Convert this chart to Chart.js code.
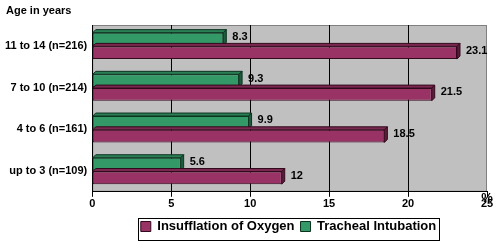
<!DOCTYPE html>
<html>
<head>
<meta charset="utf-8">
<script src="https://cdn.jsdelivr.net/npm/chart.js@4/dist/chart.umd.min.js"></script>
<style>
  html, body { margin: 0; padding: 0; background: #fff; }
  #wrap { width: 497px; height: 241px; position: relative; }
</style>
</head>
<body>
<div id="wrap"><canvas id="ageChart"></canvas></div>
<script>
// Age groups, top to bottom
const ageGroups = ['11 to 14 (n=216)', '7 to 10 (n=214)', '4 to 6 (n=161)', 'up to 3 (n=109)'];
// Percent values per group
const trachealIntubation = [8.3, 9.3, 9.9, 5.6];
const insufflationOxygen = [23.1, 21.5, 18.5, 12];
const xTicks = [0, 5, 10, 15, 20, 25];

const FONT = 'Liberation Sans, Arial, sans-serif';
const DEPTH = 3;
const LEGEND_SHIFT = 43; // legend sits right of centre in the original

// Small 3D look on each bar, then the value labels
const extrasPlugin = {
  id: 'extras',
  afterLayout(chart) {
    const lg = chart.legend;
    lg.left += LEGEND_SHIFT;
    lg.right += LEGEND_SHIFT;
    lg.top += 2;
    lg.bottom += 2;
  },
  afterDatasetsDraw(chart) {
    const ctx = chart.ctx;
    ctx.save();
    chart.data.datasets.forEach((ds, i) => {
      chart.getDatasetMeta(i).data.forEach(bar => {
        const h = bar.height;
        const x0 = bar.base, x1 = bar.x;
        const yT = bar.y - h / 2, yB = bar.y + h / 2;
        ctx.lineWidth = 1;
        ctx.strokeStyle = ds.borderColor;
        ctx.fillStyle = ds.topColor;
        ctx.beginPath();
        ctx.moveTo(x0, yT); ctx.lineTo(x0 + DEPTH, yT - DEPTH);
        ctx.lineTo(x1 + DEPTH, yT - DEPTH); ctx.lineTo(x1, yT); ctx.closePath();
        ctx.fill(); ctx.stroke();
        ctx.fillStyle = ds.sideColor;
        ctx.beginPath();
        ctx.moveTo(x1, yT); ctx.lineTo(x1 + DEPTH, yT - DEPTH);
        ctx.lineTo(x1 + DEPTH, yB - DEPTH); ctx.lineTo(x1, yB); ctx.closePath();
        ctx.fill(); ctx.stroke();
      });
    });
    ctx.font = 'bold 11px ' + FONT;
    ctx.fillStyle = '#000';
    ctx.textBaseline = 'middle';
    ctx.textAlign = 'left';
    chart.data.datasets.forEach((ds, i) => {
      chart.getDatasetMeta(i).data.forEach((bar, j) => {
        ctx.fillText(String(ds.data[j]), bar.x + 9, bar.y - 2);
      });
    });
    ctx.restore();
  },
  afterDraw(chart) {
    const ctx = chart.ctx;
    const area = chart.chartArea;
    ctx.save();
    ctx.font = 'bold 11px ' + FONT;
    ctx.fillStyle = '#000';
    ctx.textBaseline = 'alphabetic';
    ctx.textAlign = 'left';
    ctx.fillText('Age in years', 6, 14);
    ctx.font = 'bold 13px ' + FONT;
    ctx.textAlign = 'center';
    ctx.fillText('%', area.right, area.bottom + 10);
    // frame round the legend items only
    const lg = chart.legend;
    const boxes = lg.legendHitBoxes;
    const span = Math.max(...boxes.map(b => b.left + b.width)) - Math.min(...boxes.map(b => b.left)) + 6;
    const cx = (lg.left + lg.right) / 2;
    const midY = boxes[0].top + boxes[0].height / 2 + 2;
    ctx.strokeStyle = '#000';
    ctx.lineWidth = 1;
    ctx.strokeRect(Math.round(cx - span / 2) + 0.5, Math.round(midY - 11) + 0.5, Math.round(span), 22);
    ctx.restore();
  }
};

// Grey plot background
const bgPlugin = {
  id: 'plotBg',
  beforeDraw(chart) {
    const a = chart.chartArea;
    const ctx = chart.ctx;
    ctx.save();
    ctx.fillStyle = '#c0c0c0';
    ctx.fillRect(a.left, a.top, a.right - a.left, a.bottom - a.top);
    ctx.strokeStyle = '#808080';
    ctx.strokeRect(a.left + 0.5, a.top + 0.5, a.right - a.left - 1, a.bottom - a.top - 1);
    ctx.restore();
  }
};

new Chart(document.getElementById('ageChart'), {
  type: 'bar',
  data: {
    labels: ageGroups,
    datasets: [
      {
        label: 'Tracheal Intubation',
        data: trachealIntubation,
        backgroundColor: '#339966',
        borderColor: '#0d3320',
        topColor: '#2a7f55',
        sideColor: '#1d5c3c',
        borderWidth: 1,
        borderSkipped: false
      },
      {
        label: 'Insufflation of Oxygen',
        data: insufflationOxygen,
        backgroundColor: '#993366',
        borderColor: '#33091c',
        topColor: '#7a2850',
        sideColor: '#5c1e3c',
        borderWidth: 1,
        borderSkipped: false
      }
    ]
  },
  options: {
    indexAxis: 'y',
    responsive: true,
    maintainAspectRatio: false,
    animation: false,
    categoryPercentage: 0.66,
    barPercentage: 0.92,
    layout: { padding: { top: 25, right: 10, left: 4, bottom: 0 } },
    scales: {
      x: {
        min: 0,
        max: 25,
        afterBuildTicks: axis => { axis.ticks = xTicks.map(v => ({ value: v })); },
        grid: {
          color: ctx => (ctx.tick && (ctx.tick.value === 0 || ctx.tick.value === 25)) ? 'rgba(0,0,0,0)' : '#000',
          drawTicks: true,
          tickLength: 5,
          tickColor: '#000'
        },
        border: { display: true, color: '#000' },
        ticks: { color: '#000', font: { family: FONT, size: 11, weight: 'bold' }, padding: 1 }
      },
      y: {
        grid: { display: false, drawTicks: true, tickLength: 4, tickColor: '#000', offset: true },
        border: { display: true, color: '#000' },
        ticks: { color: '#000', font: { family: FONT, size: 11, weight: 'bold' }, padding: 1 }
      }
    },
    plugins: {
      legend: {
        position: 'bottom',
        reverse: true,
        labels: {
          color: '#000',
          font: { family: FONT, size: 13, weight: 'bold' },
          boxWidth: 10,
          boxHeight: 10,
          padding: 6
        }
      },
      tooltip: { enabled: false }
    }
  },
  plugins: [bgPlugin, extrasPlugin]
});
</script>
</body>
</html>
